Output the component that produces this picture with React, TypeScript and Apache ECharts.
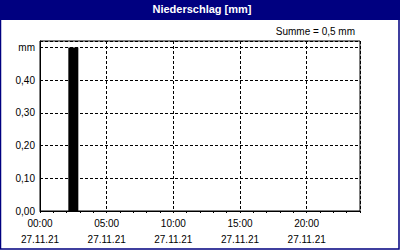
import React, { useEffect, useRef } from "react";
import * as echarts from "echarts";

const titleText = "Niederschlag [mm]";
const sumText = "Summe = 0,5 mm";
const dateLabel = "27.11.21";
// hourly precipitation (mm), hour 0..23 of 27.11.21
const hourlyRain = [0, 0, 0.5, 0, 0, 0, 0, 0, 0, 0, 0, 0, 0, 0, 0, 0, 0, 0, 0, 0, 0, 0, 0, 0];

const FONT = "Liberation Sans";

export default function App() {
  const ref = useRef<HTMLDivElement>(null);
  useEffect(() => {
    if (!ref.current) return;
    const chart = echarts.init(ref.current, undefined, { renderer: "svg" });
    const dash = [3, 2];
    chart.setOption({
      animation: false,
      backgroundColor: "#ffffff",
      grid: { left: 40, top: 41, right: 40, bottom: 39, show: true, borderColor: "#000", borderWidth: 1 },
      graphic: [
        { type: "rect", shape: { x: 0, y: 0, width: 400, height: 20 }, style: { fill: "#000080" }, silent: true },
        { type: "rect", shape: { x: 0.5, y: 0.5, width: 398.5, height: 248.5 }, style: { fill: "none", stroke: "#000080", lineWidth: 1.5 }, silent: true },
        {
          type: "text", x: 202, y: 9,
          style: { text: titleText, fill: "#fff", font: `bold 11px '${FONT}'`, textAlign: "center", textVerticalAlign: "middle" },
        },
        {
          type: "text", x: 355, y: 31,
          style: { text: sumText, fill: "#000", font: `10px '${FONT}'`, textAlign: "right", textVerticalAlign: "middle" },
        },
      ],
      xAxis: [
        {
          type: "value", min: 0, max: 24, interval: 5, position: "bottom",
          axisLine: { show: true, lineStyle: { color: "#000", width: 1 } },
          axisTick: { show: false },
          splitLine: { show: true, lineStyle: { color: "#000", type: dash, width: 1 } },
          axisLabel: {
            color: "#000", fontFamily: FONT, fontSize: 10, lineHeight: 16, margin: 4,
            showMaxLabel: false,
            formatter: (v: number) => (v % 5 === 0 && v < 24 ? `${String(v).padStart(2, "0")}:00\n${dateLabel}` : ""),
          },
        },
        {
          type: "value", min: 0, max: 24, interval: 1, position: "bottom",
          axisLine: { show: false },
          axisTick: { show: true, inside: false, length: 2, lineStyle: { color: "#000" } },
          splitLine: { show: false },
          axisLabel: { show: false },
        },
      ],
      yAxis: {
        type: "value", min: 0, max: 0.52, interval: 0.1,
        axisLine: { show: true, lineStyle: { color: "#000" } },
        axisTick: { show: false },
        splitLine: { show: true, lineStyle: { color: "#000", type: dash, width: 1 } },
        axisLabel: {
          color: "#000", fontFamily: FONT, fontSize: 10, margin: 5,
          formatter: (v: number) => {
            if (Math.abs(v - 0.5) < 1e-6) return "mm";
            if (v > 0.5) return "";
            return v.toFixed(2).replace(".", ",");
          },
        },
      },
      series: [
        {
          type: "bar", xAxisIndex: 0, barWidth: 10,
          itemStyle: { color: "#000" },
          data: hourlyRain.map((v, i) => [i + 0.5, v]),
        },
      ],
    });
    return () => chart.dispose();
  }, []);
  return <div ref={ref} style={{ position: "fixed", left: 0, top: 0, width: 400, height: 250 }} />;
}
